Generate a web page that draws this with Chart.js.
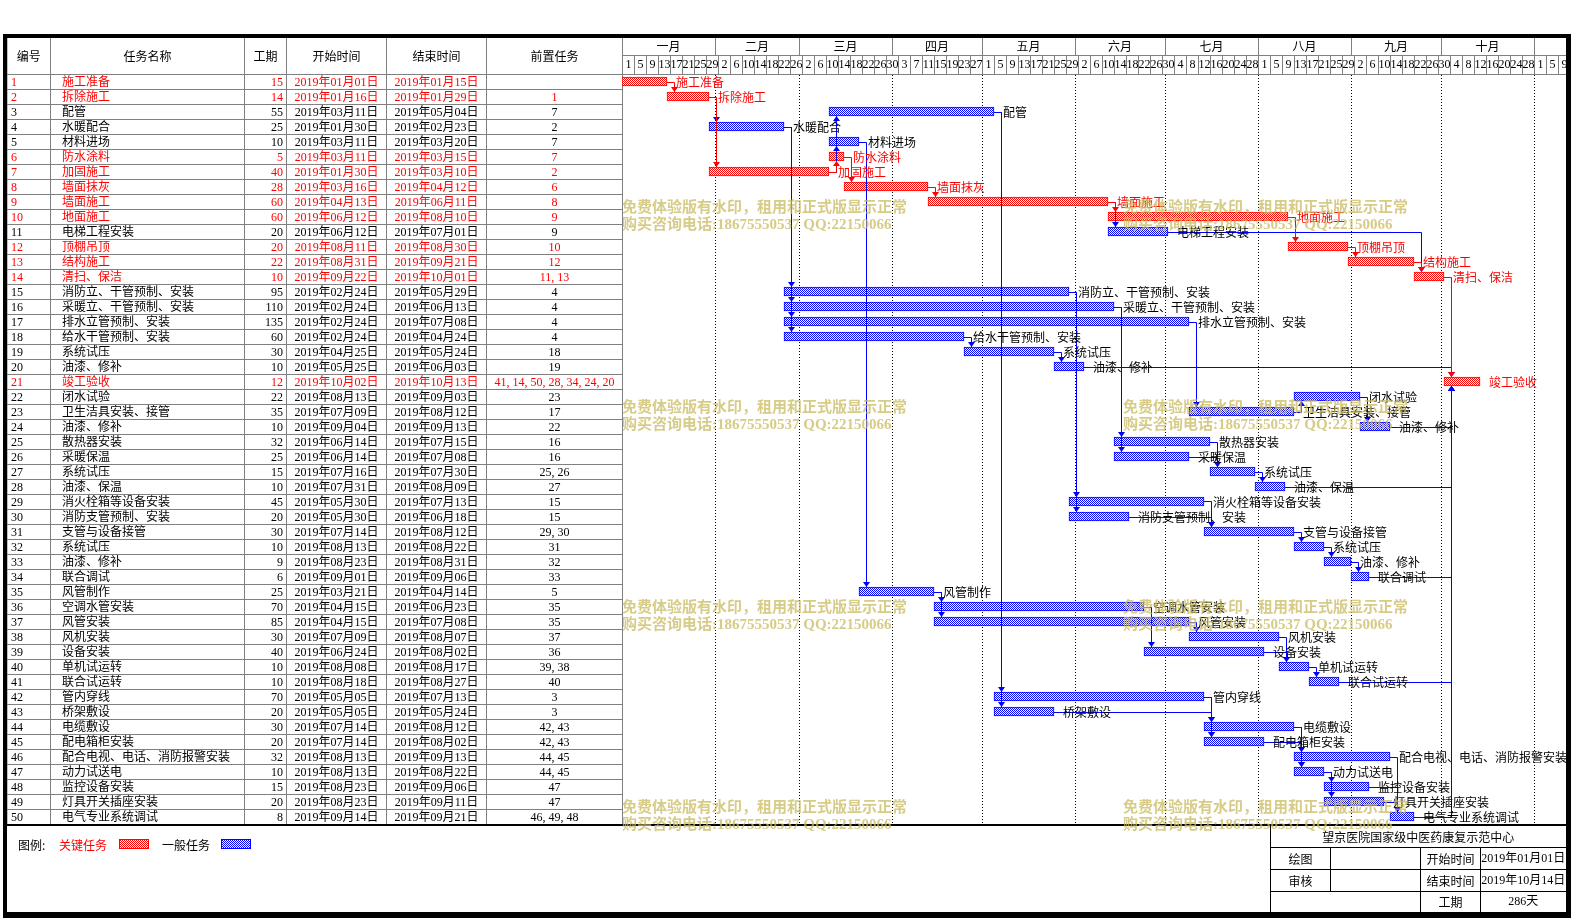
<!DOCTYPE html>
<html>
<head>
<meta charset="utf-8">
<script src="https://cdn.jsdelivr.net/npm/chart.js@4.4.0/dist/chart.umd.min.js"></script>
<style>
html, body { margin: 0; padding: 0; background: #fff; overflow: hidden; }
canvas { display: block; }
</style>
</head>
<body>
<canvas id="gantt" width="1579" height="922"></canvas>
<script>
var taskNames = ['施工准备','拆除施工','配管','水暖配合','材料进场','防水涂料','加固施工','墙面抹灰','墙面施工','地面施工',
  '电梯工程安装','顶棚吊顶','结构施工','清扫、保洁','消防立、干管预制、安装','采暖立、干管预制、安装','排水立管预制、安装','给水干管预制、安装','系统试压','油漆、修补',
  '竣工验收','闭水试验','卫生洁具安装、接管','油漆、修补','散热器安装','采暖保温','系统试压','油漆、保温','消火栓箱等设备安装','消防支管预制、安装',
  '支管与设备接管','系统试压','油漆、修补','联合调试','风管制作','空调水管安装','风管安装','风机安装','设备安装','单机试运转',
  '联合试运转','管内穿线','桥架敷设','电缆敷设','配电箱柜安装','配合电视、电话、消防报警安装','动力试送电','监控设备安装','灯具开关插座安装','电气专业系统调试'];
var durations = [15,14,55,25,10,5,40,28,60,60, 20,20,22,10,95,110,135,60,30,10, 12,22,35,10,32,25,15,10,45,20,
  30,10,9,6,25,70,85,30,40,10, 10,70,20,30,20,32,10,15,20,8];
var startDates = ['2019年01月01日','2019年01月16日','2019年03月11日','2019年01月30日','2019年03月11日','2019年03月11日','2019年01月30日','2019年03月16日','2019年04月13日','2019年06月12日',
  '2019年06月12日','2019年08月11日','2019年08月31日','2019年09月22日','2019年02月24日','2019年02月24日','2019年02月24日','2019年02月24日','2019年04月25日','2019年05月25日',
  '2019年10月02日','2019年08月13日','2019年07月09日','2019年09月04日','2019年06月14日','2019年06月14日','2019年07月16日','2019年07月31日','2019年05月30日','2019年05月30日',
  '2019年07月14日','2019年08月13日','2019年08月23日','2019年09月01日','2019年03月21日','2019年04月15日','2019年04月15日','2019年07月09日','2019年06月24日','2019年08月08日',
  '2019年08月18日','2019年05月05日','2019年05月05日','2019年07月14日','2019年07月14日','2019年08月13日','2019年08月13日','2019年08月23日','2019年08月23日','2019年09月14日'];
var endDates = ['2019年01月15日','2019年01月29日','2019年05月04日','2019年02月23日','2019年03月20日','2019年03月15日','2019年03月10日','2019年04月12日','2019年06月11日','2019年08月10日',
  '2019年07月01日','2019年08月30日','2019年09月21日','2019年10月01日','2019年05月29日','2019年06月13日','2019年07月08日','2019年04月24日','2019年05月24日','2019年06月03日',
  '2019年10月13日','2019年09月03日','2019年08月12日','2019年09月13日','2019年07月15日','2019年07月08日','2019年07月30日','2019年08月09日','2019年07月13日','2019年06月18日',
  '2019年08月12日','2019年08月22日','2019年08月31日','2019年09月06日','2019年04月14日','2019年06月23日','2019年07月08日','2019年08月07日','2019年08月02日','2019年08月17日',
  '2019年08月27日','2019年07月13日','2019年05月24日','2019年08月12日','2019年08月02日','2019年09月13日','2019年08月22日','2019年09月06日','2019年09月11日','2019年09月21日'];
var predecessors = ['','1','7','2','7','7','2','6','8','9', '9','10','12','11,13','4','4','4','4','18','19',
  '41,14,50,28,34,24,20','23','17','22','16','16','25,26','27','15','15', '29,30','31','32','33','5','35','35','37','36','39,38',
  '40','3','3','42,43','42,43','44,45','44,45','47','47','46,49,48'];
var criticalIds = [1,2,6,7,8,9,10,12,13,14,21];

var monthNames = ['一月','二月','三月','四月','五月','六月','七月','八月','九月','十月'];
var monthDays = [31,28,31,30,31,30,31,31,30,31];
var dayTicks = [1,5,9,13,17,21,25,29, 2,6,10,14,18,22,26, 2,6,10,14,18,22,26,30, 3,7,11,15,19,23,27,
  1,5,9,13,17,21,25,29, 2,6,10,14,18,22,26,30, 4,8,12,16,20,24,28, 1,5,9,13,17,21,25,29,
  2,6,10,14,18,22,26,30, 4,8,12,16,20,24,28, 1,5,9];

var headers = ['编号','任务名称','工期','开始时间','结束时间','前置任务'];
var projectTitle = '望京医院国家级中医药康复示范中心';
var projectStart = '2019年01月01日';
var projectEnd = '2019年10月14日';
var projectDays = '286天';
var watermark = ['免费体验版有水印，租用和正式版显示正常', '购买咨询电话:18675550537 QQ:22150066'];

var RED = '#ff0000', BLUE = '#0000ff', GRID = '#808080';
var FONT = '12px "Liberation Serif", "Noto Sans CJK SC", sans-serif';
var CJK = '12px "Noto Sans CJK SC", sans-serif';

function dayIndex(s) {
  var m = s.match(/(\d+)年(\d+)月(\d+)日/);
  return (Date.UTC(+m[1], +m[2] - 1, +m[3]) - Date.UTC(2019, 0, 1)) / 86400000;
}
function isCritical(i) { return criticalIds.indexOf(i + 1) >= 0; }

var ids = taskNames.map(function (n, i) { return String(i + 1); });
var bars = startDates.map(function (s, i) { return [dayIndex(s), dayIndex(endDates[i]) + 1]; });

var canvas = document.getElementById('gantt');
var ctx = canvas.getContext('2d');

function checker(color) {
  var c = document.createElement('canvas');
  c.width = 2; c.height = 2;
  var g = c.getContext('2d');
  g.fillStyle = '#fff'; g.fillRect(0, 0, 2, 2);
  g.fillStyle = color; g.fillRect(0, 0, 1, 1); g.fillRect(1, 1, 1, 1);
  return ctx.createPattern(c, 'repeat');
}
var redFill = checker(RED), blueFill = checker(BLUE);

function text(g, s, x, y, align, color, font) {
  g.font = font || FONT;
  g.fillStyle = color || '#000';
  g.textAlign = align || 'left';
  g.textBaseline = 'middle';
  g.fillText(s, x, y);
}

// table, timeline header, legend and title block
var sheetPlugin = {
  id: 'sheet',
  beforeDraw: function (chart) {
    var g = chart.ctx, xs = chart.scales.x, ys = chart.scales.y, a = chart.chartArea;
    var rowH = (a.bottom - a.top) / taskNames.length;
    var headTop = 38, midLine = 55;
    var cols = [7, 50.5, 244.5, 286.5, 386.5, 486.5, a.left + 0.5];
    g.save();
    g.fillStyle = '#fff';
    g.fillRect(0, 0, chart.width, chart.height);

    // grid of the table
    g.strokeStyle = GRID; g.lineWidth = 1;
    g.beginPath();
    for (var i = 0; i <= taskNames.length; i++) {
      var y = Math.round(a.top + i * rowH) + 0.5;
      g.moveTo(7, y); g.lineTo(a.left, y);
    }
    cols.forEach(function (c) { g.moveTo(c, headTop); g.lineTo(c, a.bottom); });
    g.moveTo(a.left, a.top + 0.5); g.lineTo(a.right, a.top + 0.5);
    g.moveTo(a.left, midLine + 0.5); g.lineTo(a.right, midLine + 0.5);
    // month cells
    var cum = 0;
    monthDays.forEach(function (d) {
      cum += d;
      var x = Math.round(xs.getPixelForValue(cum)) + 0.5;
      g.moveTo(x, headTop); g.lineTo(x, midLine);
    });
    // day cells
    dayTicks.forEach(function (d, k) {
      var x = Math.round(xs.getPixelForValue(k * 4 + 4)) + 0.5;
      if (x < a.right) { g.moveTo(x, midLine); g.lineTo(x, a.top); }
    });
    g.stroke();

    // header texts
    for (var c = 0; c < headers.length; c++) {
      text(g, headers[c], (cols[c] + cols[c + 1]) / 2, 56, 'center', '#000', CJK);
    }
    cum = 0;
    monthDays.forEach(function (d, m) {
      var x0 = xs.getPixelForValue(cum), x1 = xs.getPixelForValue(cum + d);
      text(g, monthNames[m], (x0 + x1) / 2, 46.5, 'center', '#000', CJK);
      cum += d;
    });
    g.save();
    g.beginPath(); g.rect(a.left, midLine, a.right - a.left, a.top - midLine); g.clip();
    dayTicks.forEach(function (d, k) {
      var x0 = xs.getPixelForValue(k * 4), x1 = xs.getPixelForValue(k * 4 + 4);
      text(g, String(d), (x0 + x1) / 2 + 0.5, 65, 'center', '#000', '12px "Liberation Serif", serif');
    });
    g.restore();

    // rows of the table
    taskNames.forEach(function (n, i) {
      var y = ys.getPixelForValue(i) + 1;
      var col = isCritical(i) ? RED : '#000';
      text(g, String(i + 1), 11, y, 'left', col);
      text(g, n, 62, y, 'left', col);
      text(g, String(durations[i]), 283, y, 'right', col);
      text(g, startDates[i], (cols[3] + cols[4]) / 2, y, 'center', col);
      text(g, endDates[i], (cols[4] + cols[5]) / 2, y, 'center', col);
      text(g, predecessors[i].split(',').join(', '), (cols[5] + cols[6]) / 2, y, 'center', col);
    });

    // dotted month lines in the chart body
    g.strokeStyle = '#000'; g.setLineDash([1, 2]);
    g.beginPath();
    cum = 0;
    monthDays.forEach(function (d) {
      cum += d;
      var x = Math.round(xs.getPixelForValue(cum)) + 0.5;
      g.moveTo(x, a.top + 1); g.lineTo(x, a.bottom);
    });
    g.stroke();
    g.setLineDash([]);

    // legend
    text(g, '图例:', 18, 845, 'left', '#000', CJK);
    text(g, '关键任务', 59, 845, 'left', RED, CJK);
    g.fillStyle = RED; g.fillRect(119, 839, 30, 10);
    g.fillStyle = redFill; g.fillRect(120, 840, 28, 8);
    text(g, '一般任务', 162, 845, 'left', '#000', CJK);
    g.fillStyle = BLUE; g.fillRect(221, 839, 30, 10);
    g.fillStyle = blueFill; g.fillRect(222, 840, 28, 8);

    // title block
    var bx = 1270.5, br = a.right;
    g.strokeStyle = '#000'; g.lineWidth = 1;
    g.beginPath();
    g.moveTo(bx, a.bottom); g.lineTo(bx, 912);
    [847.5, 869.5, 891.5].forEach(function (y) { g.moveTo(bx, y); g.lineTo(br, y); });
    g.moveTo(1330.5, 847.5); g.lineTo(1330.5, 891.5);
    g.moveTo(1420.5, 847.5); g.lineTo(1420.5, 912);
    g.moveTo(1480.5, 847.5); g.lineTo(1480.5, 912);
    g.stroke();
    text(g, projectTitle, (bx + br) / 2, 837, 'center', '#000', CJK);
    text(g, '绘图', 1300.5, 859, 'center', '#000', CJK);
    text(g, '审核', 1300.5, 881, 'center', '#000', CJK);
    text(g, '开始时间', 1450.5, 859, 'center', '#000', CJK);
    text(g, '结束时间', 1450.5, 881, 'center', '#000', CJK);
    text(g, '工期', 1450.5, 902, 'center', '#000', CJK);
    text(g, projectStart, (1480.5 + br) / 2, 859, 'center');
    text(g, projectEnd, (1480.5 + br) / 2, 881, 'center');
    text(g, projectDays, (1480.5 + br) / 2, 902, 'center');

    // heavy frame
    g.fillStyle = '#000';
    g.fillRect(3, 34, 1568, 4);
    g.fillRect(3, 34, 4, 884);
    g.fillRect(a.right, 34, 5, 884);
    g.fillRect(3, 912, 1568, 6);
    g.fillRect(7, a.bottom, a.right - 7, 2);
    g.restore();
  }
};

// finish-to-start links and task labels
var linksPlugin = {
  id: 'links',
  afterDatasetsDraw: function (chart) {
    var g = chart.ctx, xs = chart.scales.x, ys = chart.scales.y;
    var half = 4.5;
    var links = [];
    predecessors.forEach(function (p, j) {
      if (!p) return;
      p.split(',').forEach(function (s) {
        var i = +s - 1;
        links.push({ from: i, to: j, red: isCritical(i) && isCritical(j) });
      });
    });
    links.sort(function (u, v) { return (u.red ? 1 : 0) - (v.red ? 1 : 0); });
    g.save();
    g.lineWidth = 1;
    links.forEach(function (l) {
      var xEnd = Math.round(xs.getPixelForValue(bars[l.from][1]));
      var xStart = Math.round(xs.getPixelForValue(bars[l.to][0]));
      var xv = Math.max(xEnd, xStart) + 7.5;
      var y0 = Math.round(ys.getPixelForValue(l.from)) + 0.5;
      var yc = ys.getPixelForValue(l.to);
      var down = yc > y0;
      var tip = down ? yc - half : yc + half;
      var col = l.red ? RED : BLUE;
      g.strokeStyle = col; g.fillStyle = col;
      g.beginPath();
      g.moveTo(xEnd, y0); g.lineTo(xv, y0); g.lineTo(xv, tip);
      g.stroke();
      var d = down ? -5 : 5;
      g.beginPath();
      g.moveTo(xv, tip); g.lineTo(xv - 3.5, tip + d); g.lineTo(xv + 3.5, tip + d); g.closePath();
      g.fill();
    });
    taskNames.forEach(function (n, i) {
      var x = xs.getPixelForValue(bars[i][1]) + 9;
      text(g, n, x, ys.getPixelForValue(i) + 1, 'left', isCritical(i) ? RED : '#000', CJK);
    });
    g.restore();
  }
};

var watermarkPlugin = {
  id: 'watermark',
  afterDraw: function (chart) {
    var g = chart.ctx;
    g.save();
    g.font = 'bold 15px "Liberation Serif", "Noto Sans CJK SC", serif';
    g.fillStyle = 'rgba(200, 185, 95, 0.75)';
    g.textAlign = 'left'; g.textBaseline = 'middle';
    [208.5, 408.5, 608.5, 808.5].forEach(function (y) {
      [622, 1123].forEach(function (x) {
        g.fillText(watermark[0], x, y);
        g.fillText(watermark[1], x, y + 17);
      });
    });
    g.restore();
  }
};

var chart = new Chart(ctx, {
  type: 'bar',
  data: {
    labels: ids,
    datasets: [{
      data: bars,
      backgroundColor: bars.map(function (b, i) { return isCritical(i) ? redFill : blueFill; }),
      borderColor: bars.map(function (b, i) { return isCritical(i) ? RED : BLUE; }),
      borderWidth: 1,
      borderSkipped: false,
      barThickness: 9
    }]
  },
  options: {
    indexAxis: 'y',
    responsive: false,
    animation: false,
    devicePixelRatio: 1,
    layout: { padding: { left: 622, right: 13, top: 74, bottom: 98 } },
    scales: {
      x: { type: 'linear', min: 0, max: 944 / 3, display: false },
      y: { display: false, offset: true }
    },
    plugins: { legend: { display: false }, tooltip: { enabled: false } }
  },
  plugins: [sheetPlugin, linksPlugin, watermarkPlugin]
});
</script>
</body>
</html>
